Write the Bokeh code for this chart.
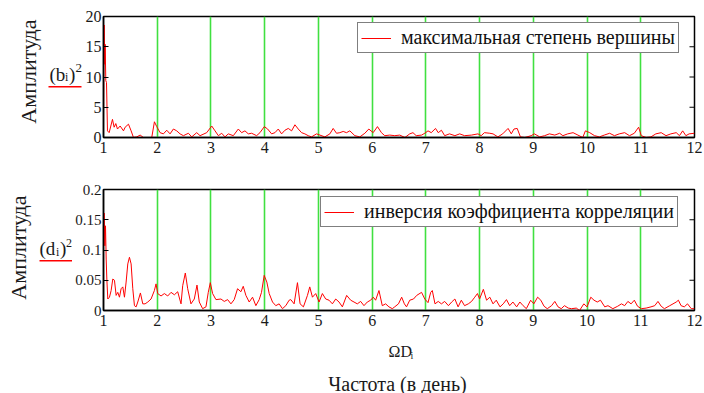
import math
from bokeh.plotting import figure
from bokeh.layouts import column, row
from bokeh.models import FixedTicker, Legend, LegendItem, Range1d
from bokeh.core.properties import value
from bokeh.embed import file_html
from bokeh.resources import INLINE

# ---------------- data ----------------
x_ticks = [1, 2, 3, 4, 5, 6, 7, 8, 9, 10, 11, 12]
x_tick_labels = ["1", "2", "3", "4", "5", "6", "7", "8", "9", "10", "11", "12"]
y1_ticks = [0, 5, 10, 15, 20]
y1_tick_labels = ["0", "5", "10", "15", "20"]
y2_ticks = [0, 0.05, 0.1, 0.15, 0.2]
y2_tick_labels = ["0", "0.05", "0.1", "0.15", "0.2"]

top_legend = "максимальная степень вершины"
bot_legend = "инверсия коэффициента корреляции"
y_title = "Амплитуда"
x_title = "Частота (в день)"

top_x = [1.000, 1.012, 1.025, 1.031, 1.043, 1.056, 1.074, 1.105, 1.167, 1.198,
         1.229, 1.260, 1.310, 1.372, 1.403, 1.465, 1.514, 1.558, 1.620, 1.682,
         1.744, 1.898, 1.948, 1.991, 2.053, 2.115, 2.177, 2.239, 2.301, 2.363,
         2.425, 2.487, 2.580, 2.642, 2.735, 2.797, 2.921, 3.014, 3.076, 3.138,
         3.200, 3.261, 3.323, 3.416, 3.509, 3.571, 3.633, 3.695, 3.757, 3.850,
         3.912, 3.993, 4.055, 4.129, 4.191, 4.253, 4.315, 4.377, 4.439, 4.501,
         4.563, 4.625, 4.687, 4.748, 4.810, 4.872, 4.965, 5.027, 5.120, 5.213,
         5.275, 5.337, 5.399, 5.461, 5.523, 5.585, 5.678, 5.771, 5.864, 5.938,
         6.019, 6.099, 6.173, 6.235, 6.328, 6.421, 6.514, 6.61, 6.70, 6.76,
         6.82, 6.92, 6.98, 7.04, 7.10, 7.18, 7.23, 7.29, 7.35, 7.44,
         7.54, 7.63, 7.72, 7.85, 7.97, 8.03, 8.09, 8.19, 8.25, 8.34,
         8.43, 8.53, 8.59, 8.64, 8.70, 8.76, 8.84, 8.96, 9.02, 9.12,
         9.21, 9.30, 9.40, 9.49, 9.55, 9.64, 9.74, 9.83, 9.92, 9.97,
         10.05, 10.14, 10.23, 10.32, 10.42, 10.51, 10.60, 10.70, 10.79, 10.88,
         10.96, 11.01, 11.10, 11.19, 11.28, 11.38, 11.47, 11.56, 11.66, 11.72,
         11.78, 11.84, 11.90, 12.00]
top_y = [3.3, 18.6, 12.1, 15.4, 9.4, 9.1, 1.1, 0.8, 3.0, 1.7,
         2.3, 1.4, 1.9, 1.1, 1.7, 2.2, 1.1, 0.0, 0.1, 0.4,
         0.0, 0.0, 2.6, 1.8, 0.8, 0.6, 1.2, 0.6, 1.4, 1.1,
         0.6, 0.3, 0.7, 0.1, 0.8, 0.3, 0.8, 1.9, 1.1, 0.3,
         0.7, 0.1, 0.6, 0.3, 1.4, 0.8, 1.1, 0.6, 0.7, 0.3,
         0.8, 1.8, 1.4, 0.6, 0.8, 1.4, 0.6, 1.2, 1.5, 1.1,
         2.1, 1.4, 0.8, 0.6, 0.3, 0.1, 0.6, 0.4, 0.1, 0.6,
         1.5, 0.7, 0.8, 1.0, 0.8, 1.1, 0.3, 0.1, 0.7, 1.4,
         0.8, 1.8, 0.8, 0.3, 0.4, 0.3, 0.4, 0.0, 0.6, 0.8,
         0.3, 0.4, 0.7, 1.1, 0.8, 1.5, 0.8, 1.2, 0.3, 0.6,
         0.3, 0.6, 0.3, 0.4, 0.6, 0.3, 0.8, 0.7, 0.6, 0.1,
         0.6, 1.5, 0.6, 1.4, 1.5, 0.1, 0.0, 0.3, 0.6, 0.1,
         0.3, 0.6, 0.4, 0.7, 0.3, 0.6, 0.8, 0.4, 0.0, 1.1,
         0.8, 0.3, 0.1, 0.4, 0.7, 0.3, 0.6, 0.8, 0.3, 0.7,
         1.7, 0.3, 0.0, 0.1, 0.6, 0.8, 0.3, 0.6, 0.8, 0.3,
         1.1, 0.3, 0.6, 0.7]

bot_x = [1.000, 1.012, 1.025, 1.037, 1.050, 1.062, 1.080, 1.111, 1.142, 1.173,
         1.204, 1.235, 1.266, 1.297, 1.328, 1.359, 1.390, 1.421, 1.452, 1.483,
         1.514, 1.545, 1.576, 1.607, 1.638, 1.687, 1.731, 1.774, 1.824, 1.885,
         1.947, 1.978, 2.009, 2.071, 2.133, 2.195, 2.257, 2.319, 2.381, 2.443,
         2.474, 2.523, 2.567, 2.628, 2.690, 2.740, 2.783, 2.845, 2.907, 2.950,
         2.988, 3.031, 3.093, 3.186, 3.248, 3.310, 3.372, 3.433, 3.495, 3.557,
         3.601, 3.650, 3.712, 3.774, 3.836, 3.898, 3.941, 3.991, 4.040, 4.084,
         4.146, 4.207, 4.269, 4.331, 4.393, 4.455, 4.486, 4.548, 4.610, 4.659,
         4.721, 4.796, 4.839, 4.889, 4.950, 5.012, 5.074, 5.136, 5.198, 5.260,
         5.322, 5.384, 5.446, 5.526, 5.601, 5.663, 5.724, 5.786, 5.848, 5.910,
         5.972, 6.022, 6.065, 6.127, 6.189, 6.251, 6.313, 6.375, 6.42, 6.49,
         6.55, 6.60, 6.64, 6.70, 6.77, 6.83, 6.92, 6.98, 7.04, 7.09,
         7.12, 7.17, 7.23, 7.29, 7.35, 7.42, 7.48, 7.54, 7.60, 7.66,
         7.72, 7.79, 7.85, 7.91, 7.96, 8.00, 8.07, 8.13, 8.19, 8.25,
         8.31, 8.38, 8.44, 8.50, 8.56, 8.62, 8.69, 8.75, 8.81, 8.87,
         8.95, 9.01, 9.08, 9.14, 9.20, 9.26, 9.34, 9.40, 9.46, 9.52,
         9.58, 9.65, 9.71, 9.80, 9.86, 9.94, 10.00, 10.07, 10.13, 10.19,
         10.25, 10.33, 10.39, 10.48, 10.57, 10.64, 10.70, 10.76, 10.82, 10.88,
         10.94, 11.01, 11.10, 11.19, 11.26, 11.32, 11.38, 11.44, 11.54, 11.60,
         11.66, 11.70, 11.75, 11.81, 11.87, 11.94, 12.00]
bot_y = [0.105, 0.161, 0.107, 0.140, 0.085, 0.052, 0.019, 0.022, 0.033, 0.052,
         0.050, 0.025, 0.030, 0.022, 0.036, 0.039, 0.022, 0.047, 0.077, 0.088,
         0.077, 0.036, 0.008, 0.006, 0.014, 0.029, 0.011, 0.011, 0.014, 0.019,
         0.033, 0.044, 0.028, 0.024, 0.028, 0.024, 0.030, 0.026, 0.031, 0.011,
         0.041, 0.062, 0.036, 0.011, 0.019, 0.042, 0.014, 0.003, 0.006, 0.030,
         0.046, 0.028, 0.018, 0.019, 0.015, 0.018, 0.011, 0.018, 0.036, 0.031,
         0.040, 0.025, 0.014, 0.022, 0.008, 0.018, 0.030, 0.058, 0.047, 0.028,
         0.014, 0.008, 0.011, 0.003, 0.008, 0.017, 0.018, 0.011, 0.046, 0.011,
         0.006, 0.025, 0.039, 0.022, 0.028, 0.014, 0.028, 0.019, 0.017, 0.011,
         0.019, 0.014, 0.006, 0.025, 0.017, 0.014, 0.011, 0.015, 0.008, 0.014,
         0.017, 0.022, 0.017, 0.033, 0.008, 0.011, 0.006, 0.003, 0.006, 0.011,
         0.022, 0.011, 0.006, 0.017, 0.019, 0.025, 0.030, 0.019, 0.013, 0.030,
         0.033, 0.011, 0.015, 0.011, 0.015, 0.008, 0.014, 0.019, 0.006, 0.017,
         0.008, 0.011, 0.015, 0.022, 0.028, 0.019, 0.035, 0.017, 0.022, 0.011,
         0.017, 0.006, 0.011, 0.018, 0.008, 0.014, 0.006, 0.014, 0.008, 0.003,
         0.017, 0.011, 0.022, 0.017, 0.007, 0.003, 0.008, 0.015, 0.006, 0.003,
         0.008, 0.004, 0.003, 0.004, 0.000, 0.011, 0.006, 0.022, 0.017, 0.014,
         0.017, 0.006, 0.008, 0.003, 0.007, 0.011, 0.008, 0.015, 0.011, 0.017,
         0.007, 0.003, 0.004, 0.006, 0.008, 0.015, 0.007, 0.003, 0.008, 0.011,
         0.014, 0.017, 0.008, 0.006, 0.011, 0.003, 0.003]

# ---------------- style ----------------
SERIF = "Liberation Serif"
GREEN = "#40e040"
RED = "#ff0000"
TXT = "#1a1a1a"
FRAME_LEFT = 101     # page x of the plot frames' left edge


def make_fig(width, height, left, top, bottom, y0, y1, yticks, ylabels,
             ysize, ystandoff):
    p = figure(width=width, height=height, x_range=Range1d(1, 12),
               y_range=Range1d(y0, y1), output_backend="svg",
               toolbar_location=None, min_border_left=left,
               min_border_right=10, min_border_top=top,
               min_border_bottom=bottom)
    p.outline_line_color = "black"
    p.outline_line_width = 1.5
    p.ygrid.visible = False
    p.xgrid.ticker = FixedTicker(ticks=x_ticks)
    p.xgrid.grid_line_color = GREEN
    p.xgrid.grid_line_width = 1.6

    xa = p.xaxis[0]
    xa.ticker = FixedTicker(ticks=x_ticks)
    xa.major_label_overrides = dict(zip(x_ticks, x_tick_labels))
    xa.major_tick_in = 0
    xa.major_tick_out = 0
    xa.minor_tick_in = 0
    xa.minor_tick_out = 0
    xa.axis_line_color = "black"
    xa.axis_line_width = 1.5
    xa.major_label_standoff = 4
    xa.major_label_text_font = SERIF
    xa.major_label_text_font_size = "16px"
    xa.major_label_text_color = TXT

    ya = p.yaxis[0]
    ya.ticker = FixedTicker(ticks=yticks)
    ya.major_label_overrides = dict(zip(yticks, ylabels))
    ya.major_tick_in = 5
    ya.major_tick_out = 0
    ya.minor_tick_in = 0
    ya.minor_tick_out = 0
    ya.axis_line_color = "black"
    ya.axis_line_width = 1.5
    ya.major_tick_line_width = 1.2
    ya.major_label_standoff = ystandoff
    ya.major_label_text_font = SERIF
    ya.major_label_text_font_size = ysize
    ya.major_label_text_color = TXT

    # inward ticks on the right frame edge, at the same y tick values
    p.ray(x=[x_ticks[-1]] * len(yticks), y=yticks, length=5,
          length_units="screen", angle=math.pi, line_color="black",
          line_width=1.2)
    return p


def text_fig(w, h):
    # a plain pixel canvas (y grows downward) for free-standing texts
    f = figure(width=w, height=h, x_range=Range1d(0, w), y_range=Range1d(h, 0),
               output_backend="svg", toolbar_location=None,
               x_axis_type=None, y_axis_type=None, min_border=0)
    f.min_border_left = f.min_border_right = 0
    f.min_border_top = f.min_border_bottom = 0
    f.outline_line_color = None
    f.xgrid.visible = False
    f.ygrid.visible = False
    return f


def txt(f, x, y, s, size, align="left", angle=0.0, color=TXT):
    f.text(x=[x], y=[y], text=[s], text_font=value(SERIF),
           text_font_size=value(size), text_align=align,
           text_baseline="middle", angle=angle, text_color=color)


def add_legend(p, r, text, loc):
    leg = Legend(items=[LegendItem(label=text, renderers=[r])], location=loc,
                 margin=0, padding=3, spacing=0, glyph_width=30,
                 glyph_height=20, label_height=20, label_standoff=10,
                 label_text_font=SERIF, label_text_font_size="20px",
                 label_text_color="#111111", border_line_color="black",
                 border_line_width=1.5, background_fill_color="white",
                 background_fill_alpha=1.0)
    p.add_layout(leg)


# ---------------- top plot ----------------
H1 = 167
LW1 = 82
p1 = make_fig(704 - LW1, H1, FRAME_LEFT - LW1, 16, 30, 0, 20,
              y1_ticks, y1_tick_labels, "16px", 2)
r1 = p1.line(top_x, top_y, line_color=RED, line_width=1)
add_legend(p1, r1, top_legend, (254, 84))

l1 = text_fig(LW1, H1)
txt(l1, 28, 76, y_title, "22px", align="center", angle=math.pi / 2)
txt(l1, 49, 80, "(b", "19px")
txt(l1, 64.5, 84, "i", "12px")
txt(l1, 68.5, 80, ")", "19px")
txt(l1, 75, 71, "2", "13px")
l1.segment(x0=[48], y0=[97], x1=[81], y1=[97], line_color=RED, line_width=1.5)

# ---------------- bottom plot ----------------
H2 = 173
LW2 = 72
p2 = make_fig(704 - LW2, H2, FRAME_LEFT - LW2, 22, 30, 0, 0.2,
              y2_ticks, y2_tick_labels, "15px", 2)
r2 = p2.line(bot_x, bot_y, line_color=RED, line_width=1)
add_legend(p2, r2, bot_legend, (217, 83))

l2 = text_fig(LW2, H2)
txt(l2, 18, 83, y_title, "22px", align="center", angle=math.pi / 2)
txt(l2, 39, 85, "(d", "19px")
txt(l2, 55.5, 89, "i", "12px")
txt(l2, 59.5, 85, ")", "19px")
txt(l2, 65.5, 76, "2", "12px")
l2.segment(x0=[39], y0=[102], x1=[72], y1=[102], line_color=RED, line_width=1.5)

# ---------------- bottom titles ----------------
H3 = 393 - H1 - H2
b3 = text_fig(704, H3)
txt(b3, 388, 11, "\u03a9D", "16px")
txt(b3, 410, 15, "i", "10px")
txt(b3, 397, 43, x_title, "20px", align="center")

layout = column(row(l1, p1, spacing=0), row(l2, p2, spacing=0), b3, spacing=0)
open("out.html", "w").write(file_html(layout, INLINE))
